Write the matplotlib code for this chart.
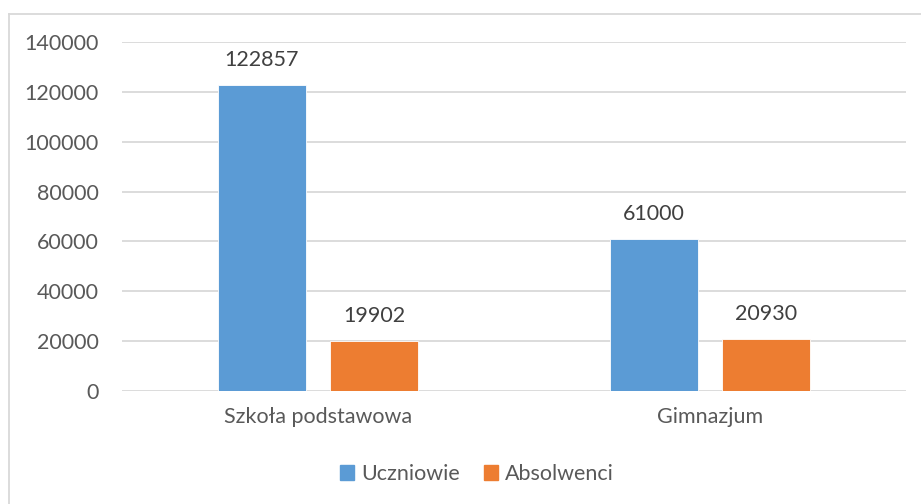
import matplotlib.pyplot as plt
from matplotlib.lines import Line2D
from matplotlib.patches import Patch
import numpy as np

plt.rcParams['font.family'] = ['Lato', 'DejaVu Sans']

categories = ["Szkoła podstawowa", "Gimnazjum"]
uczniowie = [122857, 61000]
absolwenci = [19902, 20930]
series_names = ["Uczniowie", "Absolwenci"]
yticks = [0, 20000, 40000, 60000, 80000, 100000, 120000, 140000]

blue = '#5B9BD5'
orange = '#ED7D31'
text_col = '#595959'
grid_col = '#D9D9D9'
fs = 15.5

W, H = 921, 504
fig = plt.figure(figsize=(W / 100, H / 100), dpi=100)
ax = fig.add_axes([122 / W, (H - 390.7) / H, (906 - 122) / W, (390.7 - 42.3) / H])

x = np.arange(len(categories))
bw = 0.2245
off = 0.143
b1 = ax.bar(x - off, uczniowie, bw, color=blue, edgecolor='white', linewidth=0.6, zorder=3)
b2 = ax.bar(x + off, absolwenci, bw, color=orange, edgecolor='white', linewidth=0.6, zorder=3)

for bars in (b1, b2):
    for rect in bars:
        h = rect.get_height()
        ax.annotate(f"{int(h)}", (rect.get_x() + rect.get_width() / 2, h),
                    xytext=(0, 18), textcoords='offset points',
                    ha='center', va='center', fontsize=fs, color='#404040')

ax.set_xlim(-0.5, 1.5)
ax.set_ylim(0, 140000)
ax.set_yticks(yticks)
ax.set_yticklabels([str(v) for v in yticks])
ax.set_xticks(x)
ax.set_xticklabels(categories)
ax.tick_params(axis='y', length=0, pad=17, labelsize=fs, labelcolor=text_col)
ax.tick_params(axis='x', length=0, pad=12, labelsize=fs, labelcolor=text_col)
ax.yaxis.grid(True, color=grid_col, linewidth=1.3, zorder=0)
ax.set_axisbelow(True)
for s in ax.spines.values():
    s.set_visible(False)

handles = [Patch(color=blue), Patch(color=orange)]
fig.legend(handles, series_names, loc='center', bbox_to_anchor=(477 / W, 1 - 474 / H),
           ncol=2, frameon=False, fontsize=fs, labelcolor=text_col,
           handlelength=0.65, handleheight=0.65, handletextpad=0.35, columnspacing=1.1)

# light frame of the chart area (left and top edges visible)
fig.add_artist(Line2D([9 / W, 9 / W], [0, 1 - 14 / H], color='#D9D9D9', linewidth=1.3))
fig.add_artist(Line2D([9 / W, 1], [1 - 14 / H, 1 - 14 / H], color='#D9D9D9', linewidth=1.3))

fig.savefig('out.png', dpi=100)
